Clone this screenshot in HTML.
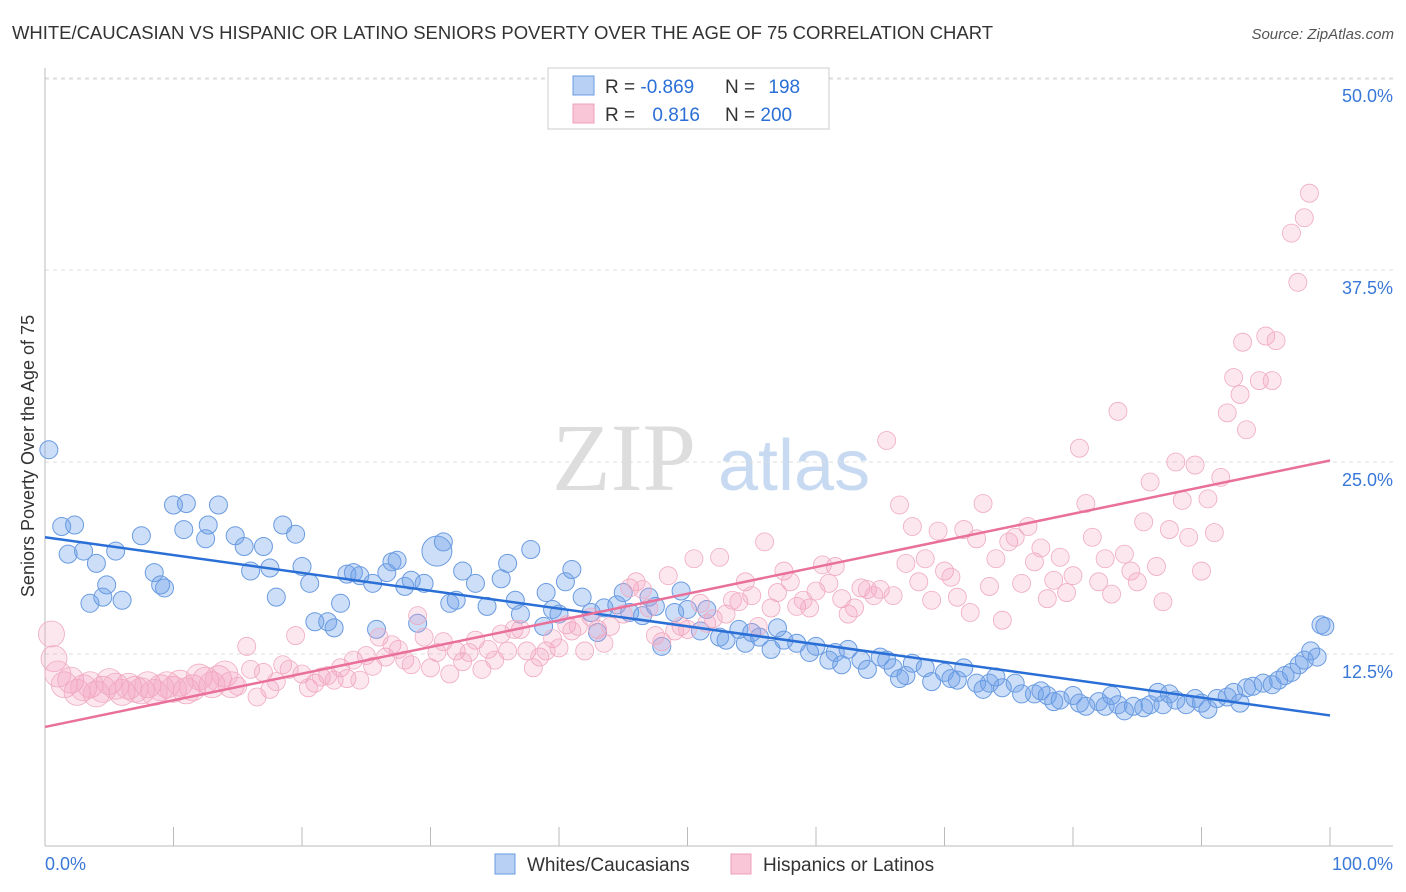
<!DOCTYPE html>
<html><head><meta charset="utf-8"><style>
body{margin:0;background:#fff;font-family:"Liberation Sans",sans-serif;}
#wrap{position:relative;width:1406px;height:892px;overflow:hidden;}
</style></head><body>
<div id="wrap">
<svg id="svg" width="1406" height="892" xmlns="http://www.w3.org/2000/svg">
<text x="12" y="39" font-size="18.5" fill="#333" textLength="981">WHITE/CAUCASIAN VS HISPANIC OR LATINO SENIORS POVERTY OVER THE AGE OF 75 CORRELATION CHART</text>
<text x="1394" y="39" font-size="15" fill="#555" font-style="italic" text-anchor="end">Source: ZipAtlas.com</text>
<text transform="translate(34,456) rotate(-90)" font-size="18" fill="#333" text-anchor="middle">Seniors Poverty Over the Age of 75</text>
<g>
<text x="552" y="490" font-size="96" fill="#ddd" font-family="Liberation Serif,serif">ZIP</text>
<text x="718" y="490" font-size="72" fill="#c8daf2">atlas</text>
</g>
<g id="grid"></g>
<g id="pts"></g>
<g id="lines"></g>
<g>
<rect x="548" y="68" width="281" height="61" fill="#fff" stroke="#ccc"/>
<rect x="573" y="76" width="21" height="19" fill="#b7d0f3" stroke="#6a9be0"/>
<rect x="573" y="104" width="21" height="19" fill="#f8c6d6" stroke="#eea0b8"/>
<text x="605" y="93" font-size="19" fill="#333">R = <tspan fill="#2a6fd6">-0.869</tspan></text>
<text x="725" y="93" font-size="19" fill="#333">N = <tspan fill="#2a6fd6" dx="8">198</tspan></text>
<text x="605" y="121" font-size="19" fill="#333">R = <tspan fill="#2a6fd6" dx="12">0.816</tspan></text>
<text x="725" y="121" font-size="19" fill="#333">N = <tspan fill="#2a6fd6">200</tspan></text>
</g>
<g>
<rect x="495" y="854" width="20" height="20" fill="#b7d0f3" stroke="#6a9be0"/>
<text x="527" y="871" font-size="19" fill="#333">Whites/Caucasians</text>
<rect x="731" y="854" width="20" height="20" fill="#f8c6d6" stroke="#eea0b8"/>
<text x="763" y="871" font-size="19" fill="#333">Hispanics or Latinos</text>
</g>
</svg>
</div>
<script>
const yTicks=[12.5,25,37.5,50];
const yTickLabels=["12.5%","25.0%","37.5%","50.0%"];
const xTickLabels=["0.0%","100.0%"];
const blueX=[0.3,1.3,2.3,1.8,3,4,5.5,4.8,3.5,4.5,6,7.5,8.5,9.3,9,10,11,10.8,12.5,12.7,13.5,14.8,15.5,16,17,17.5,18,18.5,19.5,20,20.6,21,22,22.5,23,23.5,24,24.5,25.5,25.8,26.6,27,27.4,28,28.5,29,29.5,30.5,31,31.5,32,32.5,33.5,34.4,35.5,36,36.6,37,37.8,38.8,39,39.5,40,40.5,41,41.8,42.5,43,43.5,44.5,45,45.5,46.5,47,47.5,48,49,49.5,50,51,51.5,52.5,53,54,54.5,55,55.6,56.5,57,57.5,58.5,59.5,60,61,61.5,62,62.5,63.5,64,65,65.5,66,66.5,67,67.5,68.5,69,70,70.5,71,71.5,72.5,73,73.5,74,74.5,75.5,76,77,77.5,78,78.5,79,80,80.5,81,82,82.5,83,83.5,84,84.7,85.5,86,86.6,87,87.5,88,88.8,89.5,90,90.5,91.2,92,92.5,93,93.5,94,94.8,95.5,96,96.5,97,97.6,98,98.5,99,99.3,99.6];
const blueY=[25.8,20.8,20.9,19,19.2,18.4,19.2,17,15.8,16.2,16,20.2,17.8,16.8,17,22.2,22.3,20.6,20,20.9,22.2,20.2,19.5,17.9,19.5,18.1,16.2,20.9,20.3,18.2,17.1,14.6,14.6,14.2,15.8,17.7,17.8,17.6,17.1,14.1,17.8,18.5,18.6,16.9,17.3,14.5,17.1,19.2,19.8,15.8,16,17.9,17.1,15.6,17.4,18.4,16,15.1,19.3,14.3,16.5,15.4,15.1,17.2,18,16.2,15.2,13.9,15.5,15.7,16.5,15.2,15,16.2,15.6,13,15.2,16.6,15.4,14,15.4,13.6,13.4,14.1,13.2,13.9,13.6,12.8,14.2,13.4,13.2,12.6,13,12.1,12.6,11.8,12.8,12.1,11.5,12.3,12.1,11.6,10.9,11.1,11.9,11.6,10.7,11.3,10.9,10.8,11.6,10.6,10.2,10.6,11,10.3,10.6,9.9,9.9,10.1,9.8,9.4,9.5,9.8,9.3,9.1,9.4,9.1,9.8,9.2,8.8,9.1,9,9.2,10,9.2,9.9,9.5,9.2,9.6,9.3,8.9,9.6,9.7,10,9.3,10.3,10.4,10.6,10.5,10.8,11.1,11.3,11.8,12.1,12.7,12.3,14.4,14.3];
const pinkX=[0.5,0.7,1,1.5,2,2.5,3,3.5,4,4.5,5,5.5,6,6.5,7,7.5,8,8.5,9,9.5,10,10.5,11,11.5,12,12.5,13,13.5,14,14.5,15,15.7,16,16.5,17,17.5,18,18.5,19,19.5,20,20.5,21,21.5,22,22.5,23,23.5,24,24.5,25,25.5,26,26.5,27,27.5,28,28.5,29,29.5,30,30.5,31,31.5,32,32.5,33,33.5,34,34.5,35,35.5,36,36.5,37,37.5,38,38.5,39,39.5,40,40.6,41,41.5,42,42.5,43,43.5,44,45,45.5,46,46.5,47,47.5,48,48.5,49,49.5,50,50.5,51,51.5,52,52.5,53,53.5,54,54.5,55,55.5,56,56.5,57,57.5,58,58.5,59,59.5,60,60.5,61,61.5,62,62.5,63,63.5,64,64.5,65,65.5,66,66.5,67,67.5,68,68.5,69,69.5,70,70.5,71,71.5,72,72.5,73,73.5,74,74.5,75,75.5,76,76.5,77,77.5,78,78.5,79,79.5,80,80.5,81,81.5,82,82.5,83,83.5,84,84.5,85,85.5,86,86.5,87,87.5,88,88.5,89,89.5,90,90.5,91,91.5,92,92.5,93,93.5,93.2,94.5,95,95.5,95.8,97,97.5,98,98.4];
const pinkY=[13.8,12.2,11.2,10.5,10.8,10,10.3,10.5,9.9,10.2,10.7,10.4,10,10.4,10.2,10.1,10.5,10,10.3,10.5,10.2,10.6,10.1,10.3,11,10.8,10.5,10.9,11.2,10.5,10.4,13,11.5,9.7,11.3,10.2,10.7,11.8,11.5,13.7,11.2,10.3,10.6,11,11.1,10.8,11.6,10.9,12.1,10.8,12.4,11.7,13.6,12.3,13.1,12.8,12.1,11.8,15,13.6,11.6,12.6,13.3,11.2,12.7,12,12.6,13.4,11.5,12.8,12.1,13.8,12.7,14.1,14.1,12.7,11.6,12.3,12.7,13.5,12.9,14.4,14,14.3,12.7,14.9,14.1,13.2,14.3,15.1,16.8,17.2,16.7,15.5,13.7,13.3,17.6,14,14.3,14.1,18.7,15.8,14.5,14.8,18.8,15.1,16,15.9,17.2,16.3,14.3,19.8,15.5,16.5,17.9,17.2,15.6,16,15.5,16.6,18.3,17.1,18.2,16.1,15.1,15.5,16.8,16.7,16.3,16.7,26.4,16.3,22.2,18.4,20.8,17.2,18.7,16,20.5,17.9,17.5,16.2,20.6,15.2,20,22.3,16.9,18.7,14.7,19.8,20.1,17.1,20.8,18.5,19.4,16.1,17.3,18.8,16.5,17.6,25.9,22.3,20.1,17.2,18.7,16.4,28.3,19,17.9,17.2,21.1,23.7,18.2,15.9,20.6,25,22.5,20.1,24.8,17.9,22.6,20.4,24,28.2,30.5,29.4,27.1,32.8,30.3,33.2,30.3,32.9,39.9,36.7,40.9,42.5];
const blueLine=[20.1,8.5];
const pinkLine=[7.75,25.1];
const X0=45,X1=1330,Y0=846,PXPER=192/12.5;
const sx=v=>X0+(X1-X0)*v/100;
const sy=v=>Y0-v*PXPER;
const NS="http://www.w3.org/2000/svg";
function mk(t,a,p){const e=document.createElementNS(NS,t);for(const k in a)e.setAttribute(k,a[k]);p.appendChild(e);return e;}
const grid=document.getElementById('grid');
yTicks.forEach((t,i)=>{
 const l=mk('line',{x1:45,x2:1393,y1:sy(t),y2:sy(t),stroke:'#ddd','stroke-dasharray':'4,4'},grid);
 
 
 const tx=mk('text',{x:1393,y:sy(t)+24,'font-size':18,fill:'#3a78d8','text-anchor':'end'},grid);
 tx.textContent=yTickLabels[i];
 
 
});
const topLine=mk('line',{x1:45,x2:1393,y1:79,y2:79,stroke:'#ddd','stroke-dasharray':'4,4'},grid);


const ya=mk('line',{x1:45,x2:45,y1:68,y2:846,stroke:'#bbb'},grid);


const xa=mk('line',{x1:45,x2:1393,y1:846,y2:846,stroke:'#bbb'},grid);


for(let i=0;i<=10;i++){
 const tk=mk('line',{x1:sx(i*10),x2:sx(i*10),y1:827,y2:846,stroke:'#bbb'},grid);
 
 
}
const xl0=mk('text',{x:45,y:870,'font-size':18,fill:'#3a78d8'},grid);xl0.textContent=xTickLabels[0];


const xl1=mk('text',{x:1393,y:870,'font-size':18,fill:'#3a78d8','text-anchor':'end'},grid);xl1.textContent=xTickLabels[1];


const pts=document.getElementById('pts');
blueX.forEach((x,i)=>{
 const c=mk('circle',{cx:sx(x),cy:sy(blueY[i]),r:(i==47?15:9),fill:'rgba(110,160,235,0.35)',stroke:'#6a9be0','stroke-width':1},pts);
 
 
});
pinkX.forEach((x,i)=>{
 const c=mk('circle',{cx:sx(x),cy:sy(pinkY[i]),r:(x<15?13:9),fill:'rgba(245,160,190,0.25)',stroke:'#f0aac0','stroke-width':0.8},pts);
 
 
});
const lines=document.getElementById('lines');
const bl=mk('line',{x1:sx(0),y1:sy(blueLine[0]),x2:sx(100),y2:sy(blueLine[1]),stroke:'#2a6fd6','stroke-width':2.5},lines);


const pl=mk('line',{x1:sx(0),y1:sy(pinkLine[0]),x2:sx(100),y2:sy(pinkLine[1]),stroke:'#e8709a','stroke-width':2.5},lines);


</script>
</body></html>
